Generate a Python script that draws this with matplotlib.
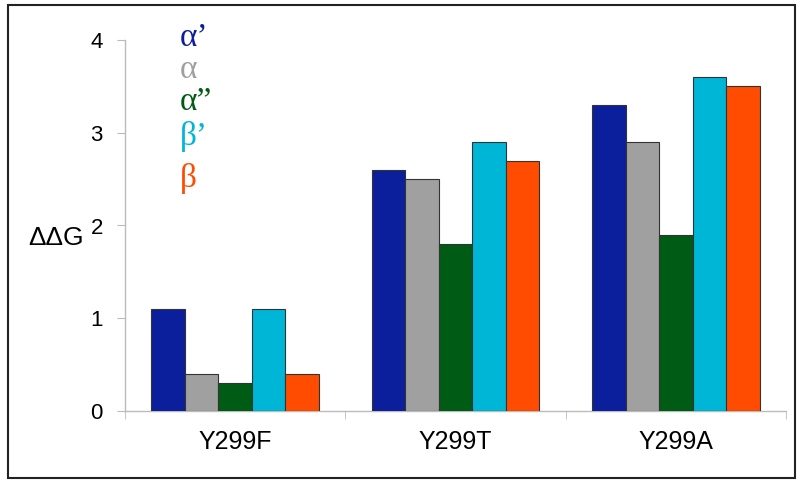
import matplotlib
matplotlib.use("Agg")
import matplotlib.pyplot as plt
from matplotlib.patches import Rectangle
import numpy as np

categories = ["Y299F", "Y299T", "Y299A"]
series_labels = ["α\u2019", "α", "α\u201d", "β\u2019", "β"]
series_colors = ["#0b1f9c", "#a0a0a0", "#005c14", "#00b6d6", "#ff4c00"]
values = {
    "α\u2019": [1.1, 2.6, 3.3],
    "α": [0.4, 2.5, 2.9],
    "α\u201d": [0.3, 1.8, 1.9],
    "β\u2019": [1.1, 2.9, 3.6],
    "β": [0.4, 2.7, 3.5],
}
yticks = [0, 1, 2, 3, 4]

fig = plt.figure(figsize=(8, 4.86), dpi=100)
ax = fig.add_axes([125/800, 1-411/486, (786-125)/800, (411-40)/486])

n = len(series_labels)
bw = 0.152
x = np.arange(len(categories))
for i, lab in enumerate(series_labels):
    ax.bar(x + (i - (n-1)/2) * bw, values[lab], width=bw, color=series_colors[i],
           edgecolor="#333333", linewidth=0.8, zorder=3)

ax.set_xlim(-0.5, len(categories) - 0.5)
ax.set_ylim(0, 4)
ax.set_yticks(yticks)
ax.set_yticklabels([str(t) for t in yticks], fontsize=16, family="Liberation Sans")
ax.set_xticks(x)
ax.set_xticklabels(categories, fontsize=18, family="Liberation Sans")
ax.set_xticks(np.arange(len(categories)+1) - 0.5, minor=True)
ax.tick_params(axis="x", which="major", length=0, pad=14)
ax.tick_params(axis="x", which="minor", length=6, color="#bbbbbb", direction="out")
ax.tick_params(axis="y", length=6, color="#bbbbbb", direction="out", pad=10)
for s in ["top", "right"]:
    ax.spines[s].set_visible(False)
for s in ["left", "bottom"]:
    ax.spines[s].set_color("#bbbbbb")
    ax.spines[s].set_linewidth(1.0)

fig.text(28/800, 1-238/486, "ΔΔG", fontsize=19, family="Liberation Sans", va="center", ha="left")

legend_y = [38, 70, 102, 137, 178]
for lab, col, yy in zip(series_labels, series_colors, legend_y):
    fig.text(180/800, 1-yy/486, lab, fontsize=24, color=col, family="Liberation Serif",
             va="center", ha="left")

fig.add_artist(Rectangle((8/800, 1-478/486), (795-8)/800, (478-5)/486,
                         transform=fig.transFigure, fill=False, edgecolor="#222222", linewidth=1.5))

fig.savefig("out.png", dpi=100)
